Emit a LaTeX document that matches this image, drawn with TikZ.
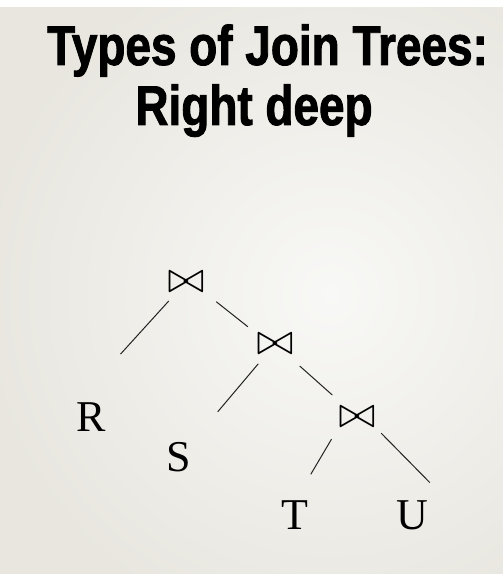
\documentclass[tikz,border=0pt]{standalone}
\usepackage{fontspec}
\setmainfont{Liberation Serif}
\newfontfamily\titlefont[FakeStretch=0.82, FakeBold=1.6]{Liberation Sans}
\usetikzlibrary{calc}
\definecolor{bgin}{HTML}{F8F8F6}
\definecolor{bgout}{HTML}{E8E6DF}
\definecolor{branch}{HTML}{222222}
\tikzstyle{title}=[inner sep=0pt, anchor=base, font=\titlefont\bfseries\fontsize{56}{56}\selectfont]
\tikzstyle{rel}=[inner sep=0pt, anchor=base, font=\fontsize{44}{44}\selectfont]
\tikzstyle{jn}=[inner sep=0pt]
\newcommand{\rnode}{\node[rel]}
\newcommand{\jnode}{\node[jn]}
\newcommand{\jsym}{\scalebox{4.4}{$\bowtie$}}

\begin{document}
\begin{tikzpicture}[x=1pt, y=1pt
  ,every edge/.style={draw, branch, line width=1pt}
]
\useasboundingbox (0,0) rectangle (503,574);
% background
\begin{scope}
\clip (0,0) rectangle (503,567);
\shade[inner color=bgin, outer color=bgout] (-20,-70) rectangle (680,630);
\end{scope}
\fill[white] (0,567) rectangle (503,574);
% title
\node[title] (title1) at (267.5,509) {Types of Join Trees:};
\node[title] (title2) at (254,449) {Right deep};
% joins
\jnode (j1) at (186,292) {\jsym};
\jnode (j2) at (275,230) {\jsym};
\jnode (j3) at (357,157) {\jsym};
% relations
\rnode (r) at (91,142) {R};
\rnode (s) at (179,102) {S};
\rnode (t) at (295,44) {T};
\rnode (u) at (412,44) {U};
\path
(j1.center) edge[shorten <=25.5pt, shorten >=66pt] (r.north west)
(j1.south east) edge[shorten <=15pt, shorten >=11pt] (j2.north west)
(j2.center) edge[shorten <=26pt, shorten >=60pt] (s.center)
(j2.center) edge[shorten <=33pt, shorten >=33pt] (j3.center)
(j3.south west) edge[shorten <=13.6pt, shorten >=31pt] (t.north)
(j3.south east) edge[shorten <=8pt, shorten >=13pt] ($(j3.south east)!1!9:(u.north east)$)
;
\end{tikzpicture}
\end{document}
